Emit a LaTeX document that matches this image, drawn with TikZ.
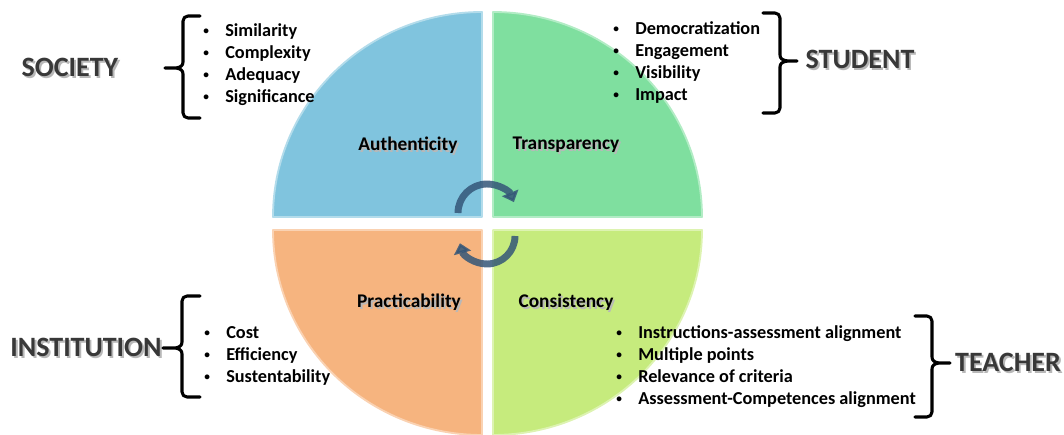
\documentclass[tikz,border=0pt]{standalone}
\usepackage{fontspec}
\setmainfont{Carlito}
\usetikzlibrary{arrows.meta}
\definecolor{qblue}{RGB}{128,196,222}
\definecolor{qgreen}{RGB}{127,223,159}
\definecolor{qorange}{RGB}{246,180,127}
\definecolor{qlime}{RGB}{198,235,125}
\definecolor{cycblue}{RGB}{52,86,120}
\definecolor{hdgray}{RGB}{56,56,56}

% bullet with its hanging space, and a soft-ish text shadow
\newcommand\bul{\makebox[18pt][l]{\hspace{1.5pt}\raisebox{0.12em}{\scalebox{0.62}{\textbullet}}}}
\newcommand\shd[1]{\makebox[0pt][l]{\hspace{1.4pt}\raisebox{-1.4pt}{\textcolor{black!28}{#1}}}#1}

\begin{document}
\begin{tikzpicture}[x=0.75pt,y=0.75pt]
  \tikzstyle{rim}=[line width=1.4pt,line join=round]
  \tikzstyle{qlab}=[font=\fontsize{14.5}{17}\selectfont\bfseries,inner sep=0pt]
  \tikzstyle{hd}=[font=\fontsize{21}{25}\selectfont\bfseries,text=hdgray,inner sep=0pt]
  \tikzstyle{lst}=[font=\fontsize{13.7}{16.5}\selectfont\bfseries,align=left,inner sep=0pt,anchor=west]
  \tikzstyle{brc}=[line width=2.3pt,line cap=round,line join=round]
  \tikzstyle{cyc}=[line width=5.2pt,cycblue,opacity=0.85,-{Triangle[width=13pt,length=7.5pt]}]

  \useasboundingbox (0,0) rectangle (1064,435);

  % -- four quarter discs --
  \fill[qblue] (482,218) -- (273,218) arc[start angle=180,end angle=90,x radius=209,y radius=205] -- cycle;
  \draw[rim,qblue!60!white] (482,218) -- (273,218) arc[start angle=180,end angle=90,x radius=209,y radius=205] -- cycle;
  \fill[qgreen] (493,218) -- (493,423) arc[start angle=90,end angle=0,x radius=209,y radius=205] -- cycle;
  \draw[rim,qgreen!60!white] (493,218) -- (493,423) arc[start angle=90,end angle=0,x radius=209,y radius=205] -- cycle;
  \fill[qorange] (482,205) -- (273,205) arc[start angle=180,end angle=270,x radius=209,y radius=205] -- cycle;
  \draw[rim,qorange!60!white] (482,205) -- (273,205) arc[start angle=180,end angle=270,x radius=209,y radius=205] -- cycle;
  \fill[qlime] (493,205) -- (702,205) arc[start angle=0,end angle=-90,x radius=209,y radius=205] -- cycle;
  \draw[rim,qlime!60!white] (493,205) -- (702,205) arc[start angle=0,end angle=-90,x radius=209,y radius=205] -- cycle;

  \node[qlab] (auth) at (408,289) {\shd{Authenticity}};
  \node[qlab] (transp) at (566,289) {\shd{Transparency}};
  \node[qlab] (pract) at (409,132) {\shd{Practicability}};
  \node[qlab] (consist) at (566,132) {\shd{Consistency}};

  % -- cycle arrows in the middle --
  \draw[cyc] (458,222) arc[start angle=180,end angle=22,radius=29];
  \draw[cyc] (515,199) arc[start angle=0,end angle=-165,radius=28];

  % -- Society --
  \node[hd] (society) at (70,367) {\shd{SOCIETY}};
  \node[lst] (soclist) at (201,370) {\bul Similarity\\ \bul Complexity\\ \bul Adequacy\\ \bul Significance};
  \coordinate (soctip) at (165,367);
  \draw[brc] (200,419) -- (188,419) to[out=180,in=90] (183,414) -- (183,373)
    to[out=-90,in=0] (soctip) to[out=0,in=90] (183,361) -- (183,322)
    to[out=-90,in=180] (188,317) -- (200,317);

  % -- Student --
  \node[hd] (student) at (860,375) {\shd{STUDENT}};
  \node[lst] (stulist) at (611,372) {\bul Democratization\\ \bul Engagement\\ \bul Visibility\\ \bul Impact};
  \coordinate (stutip) at (797,374);
  \draw[brc] (763,422) -- (775,422) to[out=0,in=90] (780,417) -- (780,380)
    to[out=-90,in=180] (stutip) to[out=180,in=90] (780,368) -- (780,327)
    to[out=-90,in=0] (775,322) -- (763,322);

  % -- Institution --
  \node[hd] (inst) at (86,87) {\shd{INSTITUTION}};
  \node[lst] (instlist) at (202,79) {\bul Cost\\ \bul Efficiency\\ \bul Sustentability};
  \coordinate (insttip) at (163,87);
  \draw[brc] (200,139) -- (187,139) to[out=180,in=90] (182,134) -- (182,93)
    to[out=-90,in=0] (insttip) to[out=0,in=90] (182,81) -- (182,43)
    to[out=-90,in=180] (187,38) -- (200,38);

  % -- Teacher --
  \node[hd] (teacher) at (1008,72) {\shd{TEACHER}};
  \node[lst] (teachlist) at (614,68) {\bul Instructions-assessment alignment\\ \bul Multiple points\\ \bul Relevance of criteria\\ \bul Assessment-Competences alignment};
  \coordinate (teachtip) at (950,72);
  \draw[brc] (915,119) -- (927,119) to[out=0,in=90] (932,114) -- (932,78)
    to[out=-90,in=180] (teachtip) to[out=180,in=90] (932,66) -- (932,23)
    to[out=-90,in=0] (927,18) -- (915,18);
\end{tikzpicture}
\end{document}
